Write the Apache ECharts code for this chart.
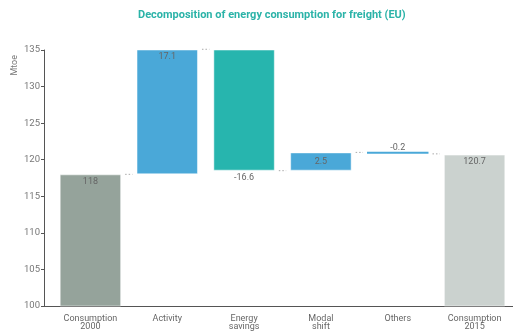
<!DOCTYPE html>
<html>
<head>
<meta charset="utf-8">
<script src="https://cdn.jsdelivr.net/npm/echarts@6/dist/echarts.min.js"></script>
<style>
  html, body { margin: 0; padding: 0; background: #fff; }
  #chart { width: 513px; height: 332px; }
</style>
</head>
<body>
<div id="chart"></div>
<script>
// categories and the changes
var categories = ['Consumption\n2000', 'Activity', 'Energy\nsavings', 'Modal\nshift', 'Others', 'Consumption\n2015']
var changes = [118, 17.1, -16.6, 2.5, -0.2, 120.7]
var isTotal = [true, false, false, false, false, true]
var barColors = ['#95a39b', '#4aa8d8', '#27b5ae', '#4aa8d8', '#4aa8d8', '#cbd2cf']
var labelPos = ['insideTop', 'insideTop', 'bottom', 'inside', 'top', 'insideTop']

// build waterfall base / height
var base = []
var height = []
var levels = []
var level = 0
for (var i = 0; i < changes.length; i++) {
  if (isTotal[i]) {
    base.push(0)
    height.push(changes[i])
    level = changes[i]
  } else {
    var next = level + changes[i]
    base.push(Math.min(level, next))
    height.push(Math.abs(changes[i]))
    level = next
  }
  levels.push(level)
}

var chart = echarts.init(document.getElementById('chart'))

var option = {
  animation: false,
  title: {
    text: 'Decomposition of energy consumption for freight (EU)',
    left: 133,
    top: 5,
    textStyle: { color: '#2bb3a8', fontSize: 11, fontWeight: 'bold', fontFamily: 'Roboto' }
  },
  graphic: [{
    type: 'text',
    left: 10,
    top: 55,
    rotation: Math.PI / 2,
    style: { text: 'Mtoe', fill: '#777', fontSize: 9, fontFamily: 'Roboto' }
  }, {
    // x axis line runs on left of the first band up to the y axis
    type: 'line',
    shape: { x1: 42, y1: 306.5, x2: 52, y2: 306.5 },
    style: { stroke: '#555', lineWidth: 1 }
  }],
  grid: { left: 52, right: 0, top: 50, bottom: 26 },
  xAxis: {
    type: 'category',
    data: categories,
    axisLine: { lineStyle: { color: '#555' } },
    axisTick: { alignWithLabel: true, length: 3, lineStyle: { color: '#555' } },
    axisLabel: { color: '#666', fontSize: 9, lineHeight: 8, margin: 9, fontFamily: 'Roboto' }
  },
  yAxis: {
    type: 'value',
    min: 100,
    max: 135,
    interval: 5,
    offset: 8,
    splitLine: { show: false },
    axisLine: { show: true, lineStyle: { color: '#555' } },
    axisTick: { show: true, length: 3, lineStyle: { color: '#555' } },
    axisLabel: { color: '#777', fontSize: 9.5, margin: 4, fontFamily: 'Roboto' }
  },
  series: [{
    type: 'bar',
    stack: 'w',
    barWidth: '80%',
    silent: true,
    itemStyle: { color: 'transparent' },
    data: base
  }, {
    type: 'bar',
    stack: 'w',
    barWidth: '80%',
    barMinHeight: 2,
    data: height.map(function (h, i) {
      return {
        value: h,
        itemStyle: { color: barColors[i], borderColor: 'rgba(255,255,255,0.5)', borderWidth: h < 1 ? 0 : 1 },
        label: {
          show: true,
          position: labelPos[i],
          distance: h < 1 ? 0 : 3,
          formatter: String(changes[i]),
          color: '#666',
          fontSize: 9,
          fontFamily: 'Roboto'
        }
      }
    })
  }, {
    // dotted connectors between bars
    type: 'custom',
    silent: true,
    data: levels.slice(0, levels.length - 1).map(function (v, i) { return [i, v] }),
    renderItem: function (params, api) {
      var i = api.value(0)
      var p1 = api.coord([i, api.value(1)])
      var p2 = api.coord([i + 1, api.value(1)])
      var half = api.size([1, 0])[0] * 0.4
      return {
        type: 'line',
        shape: { x1: p1[0] + half + 4, y1: p1[1], x2: p2[0] - half - 4, y2: p2[1] },
        style: { stroke: '#aaa', lineWidth: 1, lineDash: [1.5, 2] }
      }
    },
    encode: { x: 0, y: 1 }
  }]
}

chart.setOption(option)
</script>
</body>
</html>
